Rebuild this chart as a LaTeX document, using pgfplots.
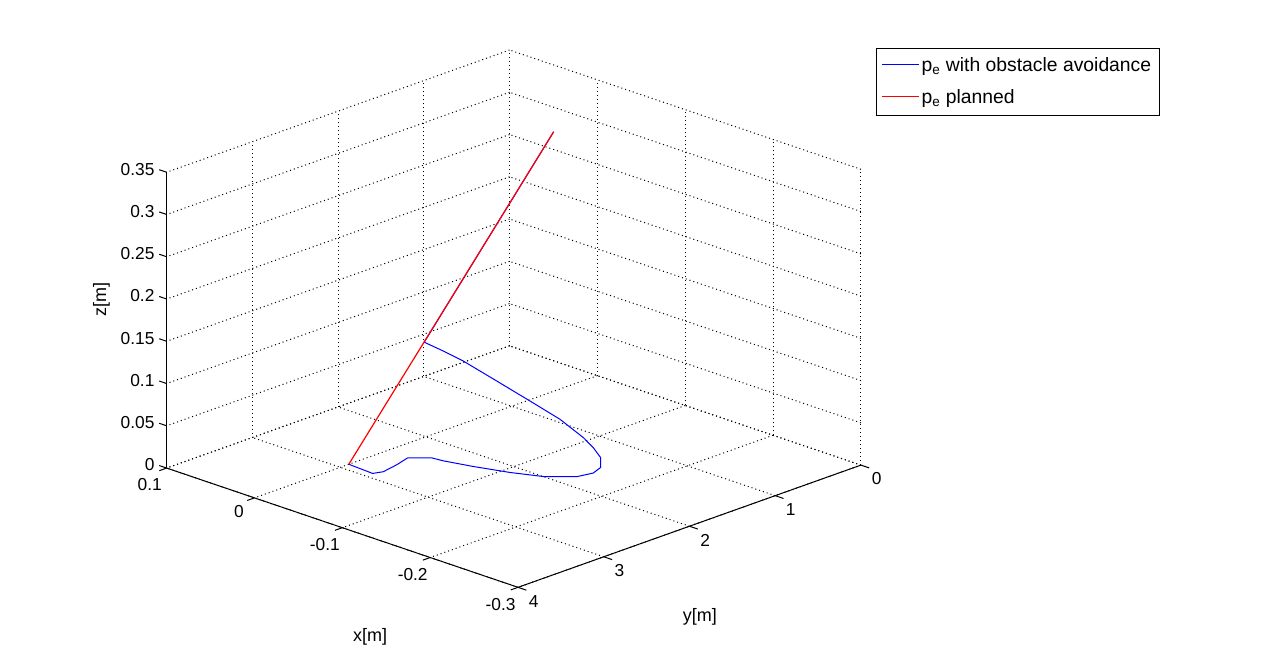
\documentclass[border=0pt]{standalone}
\usepackage{pgfplots}
\pgfplotsset{compat=1.18}
\usepackage{fontspec}
\setmainfont{Liberation Sans}
\begin{document}
\begin{tikzpicture}
\path[use as bounding box] (0,0) rectangle (960.75pt,495pt);
\begin{axis}[
    at={(125pt,54.5pt)}, anchor=south west,
    scale only axis, width=520.7pt, height=403pt,
    view={224.3}{30},
    clip=false,
    xmin=-0.3, xmax=0.1, ymin=0, ymax=4, zmin=0, zmax=0.35,
    xtick={-0.3,-0.2,-0.1,0,0.1},
    ytick={0,1,2,3,4},
    ztick={0,0.05,0.1,0.15,0.2,0.25,0.3,0.35},
    scaled ticks=false,
    tick label style={font=\fontsize{13}{15}\selectfont,
        /pgf/number format/assume math mode=true,
        /pgf/number format/fixed, /pgf/number format/precision=2},
    zticklabel style={yshift=4.5pt},
    label style={font=\fontsize{13.5}{15}\selectfont},
    xlabel={x[m]}, ylabel={y[m]}, zlabel={z[m]},
    xlabel style={at={(axis description cs:0.293,-0.093)}, anchor=center},
    ylabel style={at={(axis description cs:0.768,-0.055)}, anchor=center},
    zlabel style={at={(axis description cs:-0.094,0.535)}, anchor=center},
    grid=major,
    grid style={black, line width=0.75pt, dash pattern=on 0.75pt off 2.25pt},
    axis line style={draw=none},
    tick align=outside,
    major tick length=6pt,
    tick style={draw=none},
    legend style={at={(1.0216,1.0037)}, anchor=north west,
        font=\fontsize{14.5}{16}\selectfont,
        cells={anchor=west}, row sep=8pt, inner xsep=4pt, inner ysep=5pt},
]

% trajectory with obstacle avoidance
\addplot3[blue, line width=0.75pt,
    legend image code/.code={\node[inner sep=0pt, anchor=west] at (0pt,0pt)
        {\textcolor{blue}{\rule[-0.375pt]{28pt}{0.75pt}}};}]
coordinates {
(0,2.9,0) (-0.0289,2.918,0) (-0.0323,2.829,0) (-0.0288,2.636,0)
(-0.0238,2.457,0) (-0.0378,2.321,0) (-0.0494,2.305,0) (-0.0762,2.229,0)
(-0.1074,2.120,0) (-0.1347,1.993,0) (-0.1532,1.812,0) (-0.1569,1.656,0)
(-0.1521,1.521,0) (-0.1428,1.426,0.0051) (-0.1309,1.390,0.0113)
(-0.1186,1.380,0.0185) (-0.0959,1.419,0.0335) (-0.0730,1.535,0.0513)
(-0.0481,1.667,0.0709) (-0.0232,1.803,0.0907) (-0.0108,1.909,0.1020)
(0,2.02,0.1126) (0,0.51,0.307)
};
\addlegendentry{p\textsubscript{e} with obstacle avoidance}

% planned trajectory
\addplot3[red, line width=0.9pt,
    legend image code/.code={\node[inner sep=0pt, anchor=west] at (0pt,0pt)
        {\textcolor{red}{\rule[-0.375pt]{28pt}{0.75pt}}};}]
coordinates {
(0,2.9,0) (0,0.51,0.307)
};
\addlegendentry{p\textsubscript{e} planned}

% axis lines
\draw[black, line width=0.75pt] (0.1,4,0) -- (0.1,4,0.35);
\draw[black, line width=0.75pt] (0.1,4,0) -- (-0.3,4,0);
\draw[black, line width=0.75pt] (-0.3,0,0) -- (-0.3,4,0);

% tick marks (outside, on the three drawn axes only)
\pgfplotsinvokeforeach{0,0.05,0.1,0.15,0.2,0.25,0.3,0.35}{
  \draw[black, line width=0.75pt] (0.1,4,#1) -- (0.1085,4,#1);
}
\pgfplotsinvokeforeach{-0.3,-0.2,-0.1,0,0.1}{
  \draw[black, line width=0.75pt] (#1,4,0) -- (#1,4.085,0);
}
\pgfplotsinvokeforeach{0,1,2,3,4}{
  \draw[black, line width=0.75pt] (-0.3,#1,0) -- (-0.3095,#1,0);
}
\end{axis}
\end{tikzpicture}
\end{document}
